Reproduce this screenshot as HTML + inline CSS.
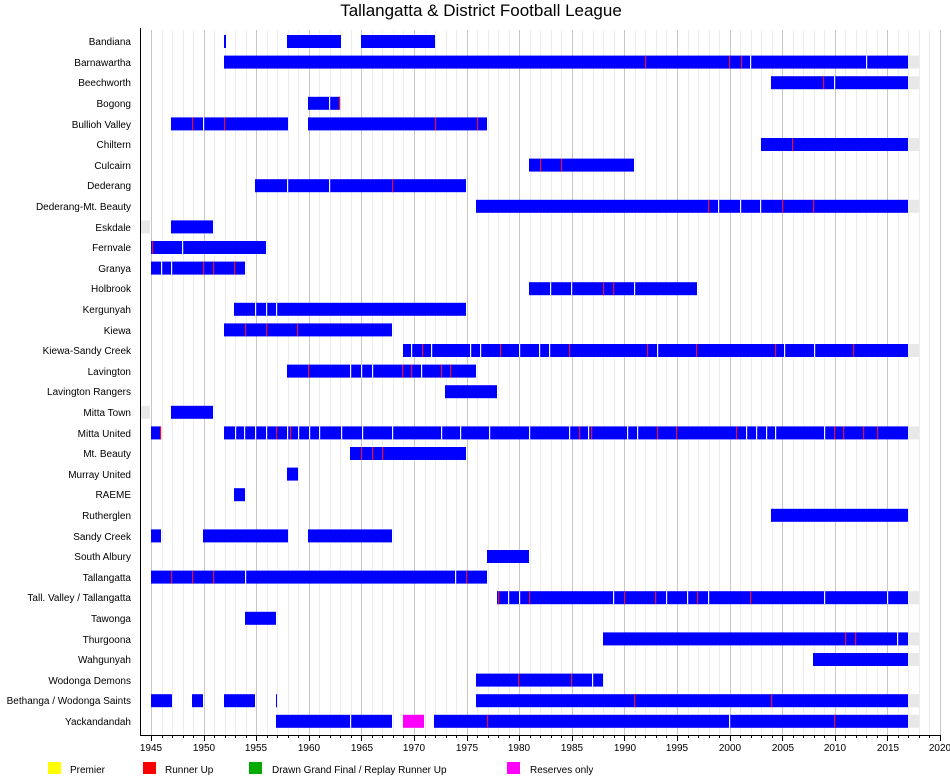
<!DOCTYPE html>
<html><head><meta charset="utf-8"><style>
body{margin:0;background:#fff;}
svg{display:block;font-family:"Liberation Sans",sans-serif;}
</style></head><body>
<svg id="s" width="950" height="780" xmlns="http://www.w3.org/2000/svg">
<rect width="950" height="780" fill="#fff"/>
<g id="grid"></g>
<g id="bars"></g>
<text x="481" y="16" font-size="17" text-anchor="middle">Tallangatta &amp; District Football League</text>
<g font-size="10" text-anchor="end">
<text x="131" y="45">Bandiana</text>
<text x="131" y="66">Barnawartha</text>
<text x="131" y="86">Beechworth</text>
<text x="131" y="107">Bogong</text>
<text x="131" y="128">Bullioh Valley</text>
<text x="131" y="148">Chiltern</text>
<text x="131" y="169">Culcairn</text>
<text x="131" y="189">Dederang</text>
<text x="131" y="210">Dederang-Mt. Beauty</text>
<text x="131" y="231">Eskdale</text>
<text x="131" y="251">Fernvale</text>
<text x="131" y="272">Granya</text>
<text x="131" y="292">Holbrook</text>
<text x="131" y="313">Kergunyah</text>
<text x="131" y="334">Kiewa</text>
<text x="131" y="354">Kiewa-Sandy Creek</text>
<text x="131" y="375">Lavington</text>
<text x="131" y="395">Lavington Rangers</text>
<text x="131" y="416">Mitta Town</text>
<text x="131" y="437">Mitta United</text>
<text x="131" y="457">Mt. Beauty</text>
<text x="131" y="478">Murray United</text>
<text x="131" y="498">RAEME</text>
<text x="131" y="519">Rutherglen</text>
<text x="131" y="540">Sandy Creek</text>
<text x="131" y="560">South Albury</text>
<text x="131" y="581">Tallangatta</text>
<text x="131" y="601">Tall. Valley / Tallangatta</text>
<text x="131" y="622">Tawonga</text>
<text x="131" y="643">Thurgoona</text>
<text x="131" y="663">Wahgunyah</text>
<text x="131" y="684">Wodonga Demons</text>
<text x="131" y="704">Bethanga / Wodonga Saints</text>
<text x="131" y="725">Yackandandah</text>
</g>
<g font-size="10" text-anchor="middle">
<text x="151" y="751">1945</text><text x="204" y="751">1950</text><text x="256" y="751">1955</text><text x="309" y="751">1960</text>
<text x="362" y="751">1965</text><text x="414" y="751">1970</text><text x="467" y="751">1975</text><text x="519" y="751">1980</text>
<text x="572" y="751">1985</text><text x="625" y="751">1990</text><text x="677" y="751">1995</text><text x="730" y="751">2000</text>
<text x="783" y="751">2005</text><text x="835" y="751">2010</text><text x="888" y="751">2015</text><text x="940" y="751">2020</text>
</g>
<rect x="48" y="762" width="13" height="12" fill="#ffff00"/>
<rect x="143" y="762" width="13" height="12" fill="#ff0000"/>
<rect x="249" y="762" width="13" height="12" fill="#00aa00"/>
<rect x="507" y="762" width="13" height="12" fill="#ff00ff"/>
<g font-size="10">
<text x="70" y="773">Premier</text>
<text x="165" y="773">Runner Up</text>
<text x="272" y="773">Drawn Grand Final / Replay Runner Up</text>
<text x="530" y="773">Reserves only</text>
</g>
<line x1="140.5" y1="28" x2="140.5" y2="735" stroke="#000"/>
<line x1="140" y1="735.5" x2="941" y2="735.5" stroke="#000"/>
<g id="ticks"></g>
</svg>
<script>
var NS="http://www.w3.org/2000/svg";
function X(y){return 151+(y-1945)*10.52;}
function el(p,t,a){var e=document.createElementNS(NS,t);for(var k in a)e.setAttribute(k,a[k]);document.getElementById(p).appendChild(e);}
for(var y=1945;y<=2020;y++){var x=Math.round(X(y))+0.5;var maj=y%5==0;
el("grid","line",{x1:x,y1:30,x2:x,y2:735,stroke:maj?"#c8c8c8":"#ececec"});
el("ticks","line",{x1:x,y1:735,x2:x,y2:maj?741:738,stroke:"#000"});}
// rows: [segments [x1,x2,color], whites [x], reds [x], grayRight]
var R=[
[[[224,226],[287,341],[361,435]],[],[],0],
[[[224,908]],[750,866],[645,729,741],1],
[[[771,908]],[834],[823],1],
[[[308,340]],[329],[339],0],
[[[171,288],[308,487]],[203],[192,224,435,477],0],
[[[761,908]],[],[792],1],
[[[529,634]],[],[540,561],0],
[[[255,466]],[287,329],[392],0],
[[[476,908]],[718,740,760],[708,782,813],1],
[[[171,213]],[],[],0],
[[[151,266]],[182],[152],0],
[[[151,245]],[161,171],[203,213,234],0],
[[[529,697]],[550,571,634],[603,613],0],
[[[234,466]],[255,266,276],[],0],
[[[224,392]],[],[245,266,297],0],
[[[403,908]],[411,431,470,480,519,539,549,657,784,814],[422,500,569,647,696,775,853],1],
[[[287,476]],[350,361,372,421],[308,402,411,441,450],0],
[[[445,497]],[],[],0],
[[[171,213]],[],[],0],
[[[151,161],[224,908]],[235,244,255,266,287,298,309,319,341,362,392,441,460,489,529,569,588,627,637,746,756,766,775,824],[160,276,290,579,591,657,676,736,834,843,863,877],1],
[[[350,466]],[],[361,372,382],0],
[[[287,298]],[],[],0],
[[[234,245]],[],[],0],
[[[771,908]],[],[],0],
[[[151,161],[203,288],[308,392]],[],[],0],
[[[487,529]],[],[],0],
[[[151,487]],[245,455],[171,192,213,466],0],
[[[497,908]],[508,519,613,666,687,708,824,887],[498,529,624,655,697,750],1],
[[[245,276]],[],[],0],
[[[603,908]],[897],[845,855],1],
[[[813,908]],[],[],1],
[[[476,603]],[592],[518,571],0],
[[[151,172],[192,203],[224,255],[276,277],[476,908]],[],[634,771],1],
[[[276,392],[403,424,"#ff00ff"],[434,908]],[350,729],[487,834],1]
];
var grayLeft=[9,18];
R.forEach(function(r,i){var cy=41.5+i*20.6;var y0=cy-6.5;
if(r[3])el("bars","rect",{x:908,y:y0,width:11,height:13,fill:"#e8e8e8"});
if(grayLeft.indexOf(i)>=0)el("bars","rect",{x:141,y:y0,width:9,height:13,fill:"#e8e8e8"});
r[0].forEach(function(s){el("bars","rect",{x:s[0],y:y0,width:s[1]-s[0],height:13,fill:s[2]||"#0000ff"});});
r[1].forEach(function(x){el("bars","rect",{x:x,y:y0,width:1.2,height:13,fill:"#f4f4ff"});});
r[2].forEach(function(x){el("bars","rect",{x:x,y:y0,width:1.2,height:13,fill:"#e0103a"});});
});
</script>
</body></html>
